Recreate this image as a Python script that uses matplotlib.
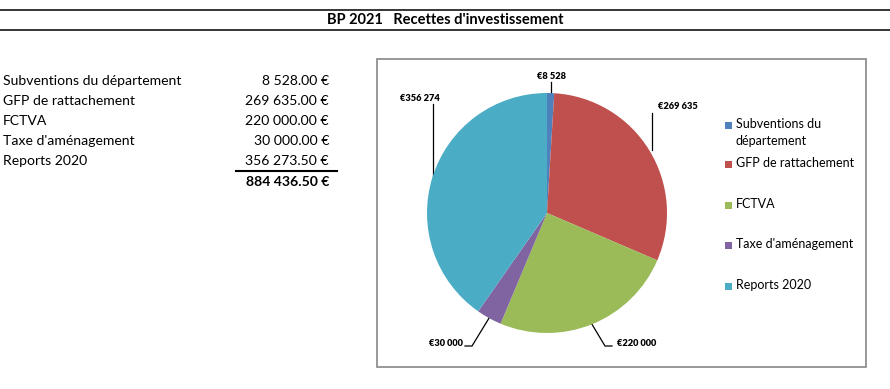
import numpy as np
import matplotlib
matplotlib.use("Agg")
import matplotlib.pyplot as plt
from matplotlib.patches import Rectangle

plt.rcParams['font.family'] = ['Lato', 'DejaVu Sans']

title = "BP 2021   Recettes d'investissement"
categories = ["Subventions du département", "GFP de rattachement", "FCTVA",
              "Taxe d'aménagement", "Reports 2020"]
legend_labels = ["Subventions du\ndépartement", "GFP de rattachement", "FCTVA",
                 "Taxe d'aménagement", "Reports 2020"]
values = [8528.00, 269635.00, 220000.00, 30000.00, 356273.50]
table_values = ["8 528.00 €", "269 635.00 €", "220 000.00 €", "30 000.00 €", "356 273.50 €"]
total_label = "884 436.50 €"
pie_labels = ["€8 528", "€269 635", "€220 000", "€30 000", "€356 274"]
colors = ["#4F81BD", "#C0504D", "#9BBB59", "#8064A2", "#4BACC6"]

W, H = 890, 389
fig = plt.figure(figsize=(W / 100, H / 100), dpi=100)
bg = fig.add_axes([0, 0, 1, 1])
bg.set_xlim(0, W)
bg.set_ylim(H, 0)
bg.axis('off')

# header lines and title
bg.plot([0, W], [10, 10], color='black', lw=1.1)
bg.plot([0, W], [30, 30], color='black', lw=1.1)
bg.text(445, 20, title, ha='center', va='center', fontsize=10.5, fontweight='bold')

# table
row_y = [81, 101, 121, 141, 161]
for y, cat, v in zip(row_y, categories, table_values):
    bg.text(3, y, cat, ha='left', va='center', fontsize=10.1)
    bg.text(329, y, v, ha='right', va='center', fontsize=10.1)
bg.plot([236, 337], [171, 171], color='black', lw=1.5)
bg.text(329, 182, total_label, ha='right', va='center', fontsize=10.1, fontweight='bold')

# chart frame
bg.add_patch(Rectangle((377, 59), 489, 308, fill=False, edgecolor='#868686', lw=1.2))

# pie
cx, cy, r = 547, 213, 120
pax = fig.add_axes([(cx - r) / W, (H - cy - r) / H, 2 * r / W, 2 * r / H])
pax.pie(values, colors=colors, startangle=90, counterclock=False,
        radius=1, wedgeprops=dict(linewidth=0))
pax.set_xlim(-1, 1)
pax.set_ylim(-1, 1)
pax.set_aspect('auto')
pax.axis('off')

# leader lines and labels (angles from data)
fr = np.array(values) / sum(values)
mid = (np.cumsum(fr) - fr / 2) * 360.0
ex = cx + r * np.sin(np.radians(mid))
ey = cy - r * np.cos(np.radians(mid))
lab_fs = 6.7
# Subventions
bg.plot([ex[0], ex[0]], [ey[0], 82], color='black', lw=0.9)
bg.text(ex[0] + 1, 76, pie_labels[0], ha='center', va='center', fontsize=lab_fs, fontweight='heavy')
# GFP
bg.plot([ex[1] + 3, ex[1] + 3], [ey[1], 113], color='black', lw=0.9)
bg.text(678, 106, pie_labels[1], ha='center', va='center', fontsize=lab_fs, fontweight='heavy')
# FCTVA
bg.plot([ex[2], 605, 612], [ey[2], 346, 346], color='black', lw=0.9)
bg.text(617, 343, pie_labels[2], ha='left', va='center', fontsize=lab_fs, fontweight='heavy')
# Taxe
bg.plot([ex[3], 472, 465], [ey[3], 346, 346], color='black', lw=0.9)
bg.text(463, 343, pie_labels[3], ha='right', va='center', fontsize=lab_fs, fontweight='heavy')
# Reports
bg.plot([ex[4], ex[4]], [ey[4], 104], color='black', lw=0.9)
bg.text(420, 98, pie_labels[4], ha='center', va='center', fontsize=lab_fs, fontweight='heavy')

# legend
leg_y = [125, 164, 205, 245, 286]
for y, lab, c in zip(leg_y, legend_labels, colors):
    bg.add_patch(Rectangle((725, y - 3.5), 7, 7, facecolor=c, edgecolor='none'))
    bg.text(736, y - 7, lab, ha='left', va='top', fontsize=9, linespacing=1.45)

fig.savefig("out.png", dpi=100)
